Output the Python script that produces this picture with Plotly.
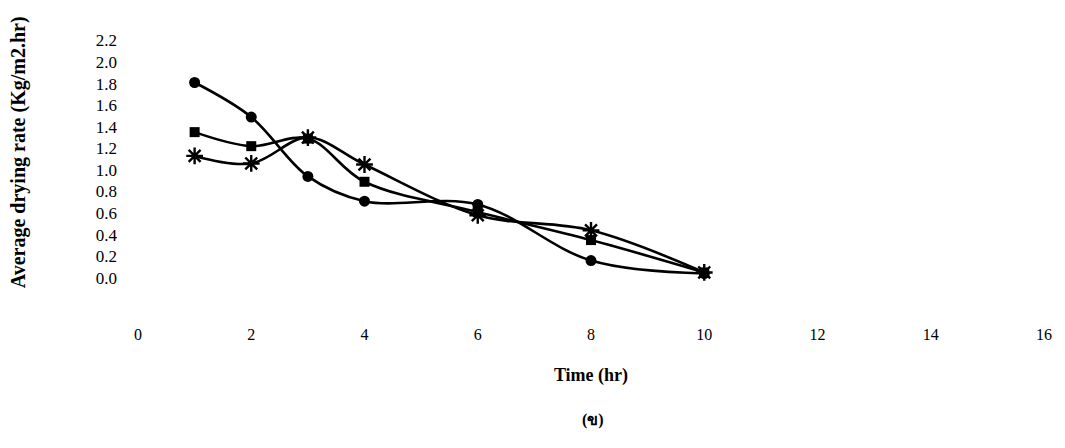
import plotly.graph_objects as go

time_hr = [1, 2, 3, 4, 6, 8, 10]
rate_circle = [1.81, 1.49, 0.94, 0.71, 0.68, 0.16, 0.04]
rate_square = [1.35, 1.22, 1.29, 0.89, 0.61, 0.35, 0.05]
rate_star = [1.13, 1.06, 1.30, 1.05, 0.58, 0.44, 0.05]

y_ticks = [0.0, 0.2, 0.4, 0.6, 0.8, 1.0, 1.2, 1.4, 1.6, 1.8, 2.0, 2.2]
x_ticks = [0, 2, 4, 6, 8, 10, 12, 14, 16]

fig = go.Figure()
series = [
    ("Circle", rate_circle, dict(symbol="circle", size=11, color="black")),
    ("Square", rate_square, dict(symbol="square", size=10, color="black")),
    ("Star", rate_star, dict(symbol="asterisk-open", size=14, color="black",
                               line=dict(color="black", width=2.4))),
]
for name, vals, mk in series:
    fig.add_trace(go.Scatter(
        x=time_hr, y=vals, name=name, mode="lines+markers",
        line=dict(color="black", width=2.6, shape="spline", smoothing=1.0),
        marker=mk, showlegend=False,
    ))

font_family = "Liberation Serif, Times New Roman, serif"
fig.update_layout(
    width=1057, height=440,
    margin=dict(l=130, r=21, t=27, b=127),
    paper_bgcolor="white", plot_bgcolor="white",
    font=dict(family=font_family, color="black", size=14),
    showlegend=False,
)
fig.update_xaxes(
    range=[0, 16], tickvals=x_ticks, ticktext=[str(v) for v in x_ticks],
    showgrid=False, zeroline=False, showline=False, ticks="",
    ticklabelstandoff=2, tickfont=dict(size=16),
    title=dict(text="<b>Time (hr)</b>", font=dict(size=18), standoff=26),
)
fig.update_yaxes(
    range=[-0.40, 2.25], tickvals=y_ticks, ticktext=[f"{v:.1f}" for v in y_ticks],
    showgrid=False, zeroline=False, showline=False, ticks="",
    ticklabelstandoff=20, tickfont=dict(size=17),
)
fig.add_annotation(
    text="<b>Average drying rate (Kg/m2.hr)</b>", textangle=-90,
    xref="paper", yref="paper", x=-0.1325, y=0.59, yanchor="middle", xanchor="center",
    showarrow=False, font=dict(size=20, family=font_family),
)
fig.add_annotation(
    text="<b>(ข)</b>", xref="paper", yref="paper", x=0.502, y=-0.345,
    showarrow=False, font=dict(size=16), yanchor="middle",
)
fig.write_html("out.html")
